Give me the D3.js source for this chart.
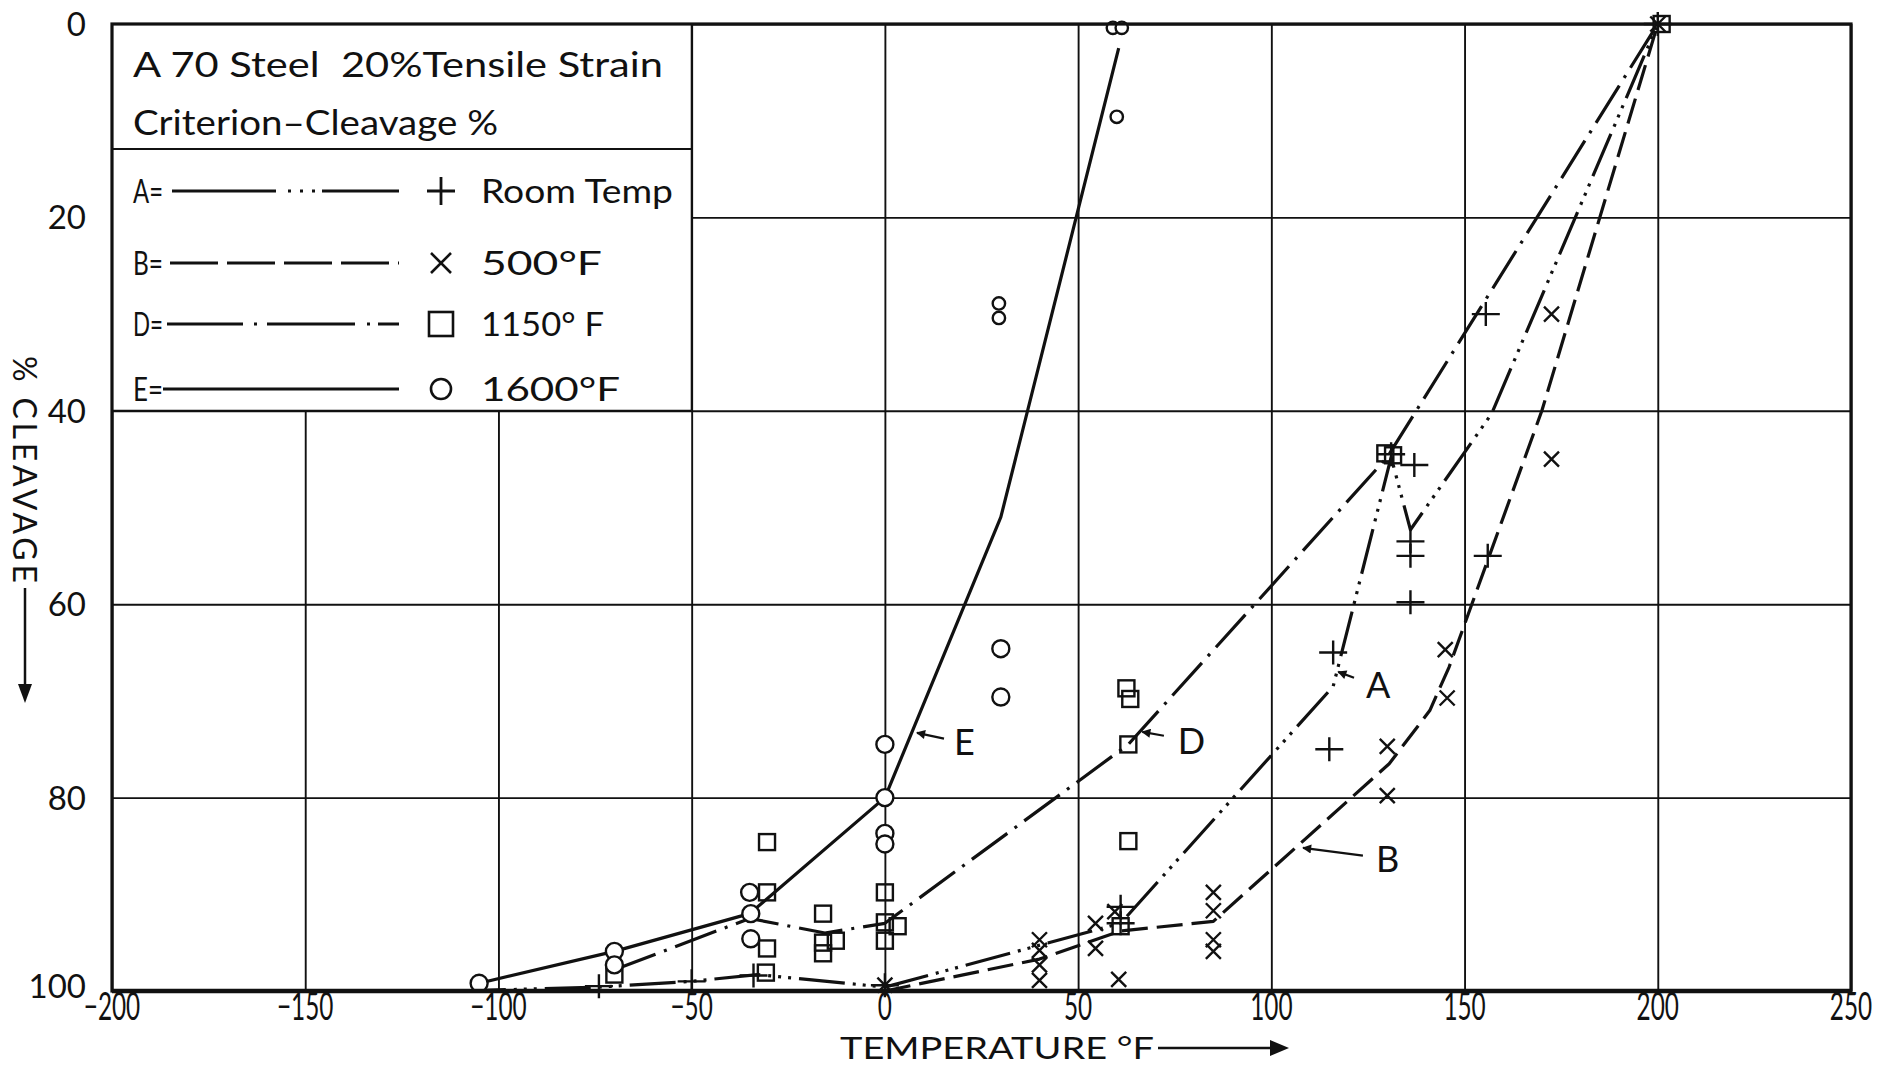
<!DOCTYPE html>
<html>
<head>
<meta charset="utf-8">
<script src="https://cdn.jsdelivr.net/npm/d3@7"></script>
<style>
  html, body { margin: 0; padding: 0; background: #fff; }
  svg { display: block; }
  text { font-family: Lato, "DejaVu Sans", sans-serif; fill: #111; white-space: pre; }
</style>
</head>
<body>
<svg id="chart" width="1895" height="1065"></svg>
<script>
// Axis ticks
const xTicks = [-200, -150, -100, -50, 0, 50, 100, 150, 200, 250];   // temperature, °F
const yTicks = [0, 20, 40, 60, 80, 100];                               // cleavage, %

// Fitted curves: [temperature °F, cleavage %]
const curveA = [[-110, 100], [-74, 99.6], [-50, 99], [-33, 98.3], [0, 99.6], [61, 93], [116, 68.5],
                [131, 44.8], [136, 52.3], [157, 40.3], [200, 0]];
const curveB = [[0, 100], [40, 96.7], [61, 93.8], [85, 92.8], [130.5, 76.5], [141, 71], [146, 66.5],
                [170, 40], [200, 0]];
const curveD = [[-70, 97.8], [-35, 92.5], [-15.5, 94], [0, 93], [63, 74.5], [130, 44.8], [200, 0]];
const curveE = [[-105, 99.2], [-70, 95.9], [-35, 92], [0, 80], [30, 51], [60.5, 2.5]];

// Test results: [temperature °F, cleavage %]
const roomTempPts = [[-74, 99.5], [-50, 99], [-34, 98.4], [0, 99.4], [61, 91.3], [61, 93], [116, 65], [115, 75],
                     [131, 44.5], [137, 45.6], [136, 53.5], [136, 55], [136, 59.8], [156, 55], [155.5, 30], [200, 0]];
const f500Pts = [[0, 99.4], [40, 94.7], [40, 95.8], [40, 97.3], [40, 98.9], [54.5, 93], [54.5, 95.6], [60.5, 98.8],
                 [59.5, 91.8], [85, 89.8], [85, 91.7], [85, 94.7], [85, 95.9], [130, 74.7], [130, 79.8],
                 [145, 64.7], [145.5, 69.7], [172.5, 45], [172.5, 30], [200, 0]];
const f1150Pts = [[-70, 98.3], [-30.5, 84.6], [-30.5, 89.8], [-30.5, 95.6], [-30.8, 98.1], [-16, 92], [-16, 95],
                  [-16, 96.1], [-12.7, 94.8], [0, 89.8], [0, 92.9], [0, 94.8], [3.3, 93.3], [62.5, 68.7],
                  [63.5, 69.8], [63, 74.5], [63, 84.5], [61, 93.3], [129.5, 44.4], [131.5, 44.6], [201, 0]];
const f1600Pts = [[-105, 99.2], [-70, 95.9], [-70, 97.3], [-35, 89.8], [-34.7, 92], [-34.7, 94.6], [0, 74.5],
                  [0, 80], [0, 83.7], [0, 84.8], [30, 64.6], [30, 69.6]];
const f1600SmallPts = [[29.5, 28.9], [29.5, 30.4], [60, 9.6], [59, 0.4], [61.3, 0.4]];

// Curve labels: letter, label position, arrow tip (data units)
const curveLabels = [
  { name: "E", at: [17.9, 74.3], tail: [15.3, 73.9], tip: [8.3, 73.3] },
  { name: "D", at: [75.8, 74.1], tail: [72.2, 73.6], tip: [66.6, 73.2] },
  { name: "A", at: [124.5, 68.4], tail: [121.4, 67.6], tip: [117.3, 67.0] },
  { name: "B", at: [127.1, 86.3], tail: [123.7, 86.0], tip: [108.2, 85.2] }
];

// Legend entries
const legendTitle = ["A 70 Steel  20%Tensile Strain", "Criterion\u2013Cleavage %"];
const legendKeys = ["A=", "B=", "D=", "E="];
const legendNames = ["Room Temp", "500°F", "1150° F", "1600°F"];

const svg = d3.select("#chart");
const P = { left: 112, right: 1851, top: 24, bottom: 991 };
const x = d3.scaleLinear().domain([-200, 250]).range([P.left, P.right]);
const y = d3.scaleLinear().domain([0, 100]).range([P.top, P.bottom]);
const ink = "#111";

svg.append("rect").attr("width", 1895).attr("height", 1065).attr("fill", "#fff");

// grid
const grid = svg.append("g");
grid.append("g").attr("transform", `translate(0,${P.bottom})`)
  .call(d3.axisBottom(x).tickValues(xTicks).tickSize(-(P.bottom - P.top)).tickFormat(""))
  .call(g => { g.select(".domain").remove(); g.selectAll("line").attr("stroke", ink).attr("stroke-width", 1.9); });
grid.append("g").attr("transform", `translate(${P.left},0)`)
  .call(d3.axisLeft(y).tickValues(yTicks).tickSize(-(P.right - P.left)).tickFormat(""))
  .call(g => { g.select(".domain").remove(); g.selectAll("line").attr("stroke", ink).attr("stroke-width", 1.9); });

// legend panel (covers the upper-left grid cells)
const lg = svg.append("g");
lg.append("rect").attr("x", x(-200)).attr("y", y(0)).attr("width", x(-50) - x(-200)).attr("height", y(40) - y(0))
  .attr("fill", "#fff");
lg.append("line").attr("x1", x(-50)).attr("x2", x(-50)).attr("y1", y(0)).attr("y2", y(40))
  .attr("stroke", ink).attr("stroke-width", 1.9);
lg.append("line").attr("x1", x(-200)).attr("x2", x(-50)).attr("y1", y(40)).attr("y2", y(40))
  .attr("stroke", ink).attr("stroke-width", 1.9);
lg.append("line").attr("x1", x(-200)).attr("x2", x(-50)).attr("y1", 149).attr("y2", 149)
  .attr("stroke", ink).attr("stroke-width", 1.9);
lg.append("text").attr("x", 133).attr("y", 77).attr("font-size", 34)
  .attr("textLength", 530).attr("lengthAdjust", "spacingAndGlyphs").text(legendTitle[0]);
lg.append("text").attr("x", 133).attr("y", 135).attr("font-size", 34)
  .attr("textLength", 365).attr("lengthAdjust", "spacingAndGlyphs").text(legendTitle[1]);

const rowY = [191, 263, 324, 389];
const rowLineStart = [172, 170, 167, 163];
const rowDash = ["104,12,3,9,3,9,3,7,90", "48,9", "76,11,3,10,88,12,3,8,40", null];
const rowNameLen = [192, 121, 123, 139];
legendKeys.forEach((k, i) => {
  lg.append("text").attr("x", 133).attr("y", rowY[i] + 12).attr("font-size", 32)
    .attr("textLength", 30).attr("lengthAdjust", "spacingAndGlyphs").text(k);
  const l = lg.append("line").attr("x1", rowLineStart[i]).attr("x2", 399).attr("y1", rowY[i]).attr("y2", rowY[i])
    .attr("stroke", ink).attr("stroke-width", 2.8);
  if (rowDash[i]) l.attr("stroke-dasharray", rowDash[i]);
  lg.append("text").attr("x", 481).attr("y", rowY[i] + 12).attr("font-size", 33)
    .attr("textLength", rowNameLen[i]).attr("lengthAdjust", "spacingAndGlyphs").text(legendNames[i]);
});

// marker shapes
function plusPath(hw, hh) { return `M${-hw},0H${hw}M0,${-hh}V${hh}`; }
function crossPath(s) { return `M${-s},${-s}L${s},${s}M${-s},${s}L${s},${-s}`; }
lg.append("path").attr("transform", `translate(441,${rowY[0]})`).attr("d", plusPath(14, 14))
  .attr("stroke", ink).attr("stroke-width", 2.8).attr("fill", "none");
lg.append("path").attr("transform", `translate(441,${rowY[1]})`).attr("d", crossPath(10))
  .attr("stroke", ink).attr("stroke-width", 2.6).attr("fill", "none");
lg.append("rect").attr("x", 441 - 12).attr("y", rowY[2] - 12).attr("width", 24).attr("height", 24)
  .attr("stroke", ink).attr("stroke-width", 2.6).attr("fill", "none");
lg.append("circle").attr("cx", 441).attr("cy", rowY[3]).attr("r", 10)
  .attr("stroke", ink).attr("stroke-width", 2.6).attr("fill", "none");

// curves
const line = d3.line().x(d => x(d[0])).y(d => y(d[1]));
const curves = svg.append("g").attr("fill", "none").attr("stroke", ink).attr("stroke-width", 3.2)
  .attr("stroke-linejoin", "round");
curves.append("path").attr("d", line(curveE));
curves.append("path").attr("d", line(curveD)).attr("stroke-dasharray", "44,9,3,9");
curves.append("path").attr("d", line(curveA)).attr("stroke-dasharray", "46,8,3,7,3,7,3,8");
curves.append("path").attr("d", line(curveB)).attr("stroke-dasharray", "26,9");

// points
const pts = svg.append("g").attr("stroke", ink).attr("stroke-width", 2.4);
pts.selectAll(".sq").data(f1150Pts).join("rect").attr("class", "sq")
  .attr("x", d => x(d[0]) - 8).attr("y", d => y(d[1]) - 8).attr("width", 16).attr("height", 16)
  .attr("fill", "none");
pts.selectAll(".ci").data(f1600Pts).join("circle").attr("class", "ci")
  .attr("cx", d => x(d[0])).attr("cy", d => y(d[1])).attr("r", 8.5).attr("fill", "#fff");
pts.selectAll(".cs").data(f1600SmallPts).join("circle").attr("class", "cs")
  .attr("cx", d => x(d[0])).attr("cy", d => y(d[1])).attr("r", 6.2).attr("fill", "#fff");
pts.selectAll(".pl").data(roomTempPts).join("path").attr("class", "pl")
  .attr("transform", d => `translate(${x(d[0])},${y(d[1])})`).attr("d", plusPath(14, 12)).attr("fill", "none");
pts.selectAll(".cr").data(f500Pts).join("path").attr("class", "cr")
  .attr("transform", d => `translate(${x(d[0])},${y(d[1])})`).attr("d", crossPath(7.5)).attr("fill", "none");

// curve labels with arrows
svg.append("defs").append("marker").attr("id", "head").attr("viewBox", "0 0 10 10")
  .attr("refX", 9).attr("refY", 5).attr("markerWidth", 12).attr("markerHeight", 9)
  .attr("markerUnits", "userSpaceOnUse").attr("orient", "auto")
  .append("path").attr("d", "M0,0L10,5L0,10Z").attr("fill", ink);
const labs = svg.append("g");
curveLabels.forEach(c => {
  labs.append("line").attr("x1", x(c.tail[0])).attr("y1", y(c.tail[1])).attr("x2", x(c.tip[0])).attr("y2", y(c.tip[1]))
    .attr("stroke", ink).attr("stroke-width", 2.2).attr("marker-end", "url(#head)");
  labs.append("text").attr("x", x(c.at[0])).attr("y", y(c.at[1]) + 13).attr("font-size", 36)
    .attr("text-anchor", "start").text(c.name);
});

// plot frame
svg.append("rect").attr("x", P.left).attr("y", P.top).attr("width", P.right - P.left).attr("height", P.bottom - P.top)
  .attr("fill", "none").attr("stroke", ink).attr("stroke-width", 3.2);
svg.append("line").attr("x1", P.left).attr("x2", P.right).attr("y1", P.bottom).attr("y2", P.bottom)
  .attr("stroke", ink).attr("stroke-width", 4.5);

// tick labels
const fmt = d => (d < 0 ? "\u2212" + Math.abs(d) : String(d));
svg.append("g").selectAll("text").data(xTicks).join("text")
  .attr("transform", d => `translate(${x(d)},1020) scale(0.64,1)`)
  .attr("text-anchor", "middle").attr("font-size", 38).text(fmt);
svg.append("g").selectAll("text").data(yTicks).join("text")
  .attr("x", 86).attr("y", d => Math.min(y(d) + 12, P.bottom + 7)).attr("text-anchor", "end").attr("font-size", 33)
  .text(d => d);

// axis titles
svg.append("text").attr("x", 840).attr("y", 1058.5).attr("font-size", 30)
  .attr("textLength", 314).attr("lengthAdjust", "spacingAndGlyphs").text("TEMPERATURE °F");
svg.append("line").attr("x1", 1158).attr("x2", 1272).attr("y1", 1048).attr("y2", 1048)
  .attr("stroke", ink).attr("stroke-width", 2.5);
svg.append("path").attr("d", "M1270,1040L1289,1048L1270,1056Z").attr("fill", ink);

svg.append("text").attr("transform", "translate(13,356) rotate(90)").attr("font-size", 32)
  .attr("textLength", 227).attr("lengthAdjust", "spacing").text("% CLEAVAGE");
svg.append("line").attr("x1", 25).attr("x2", 25).attr("y1", 588).attr("y2", 688)
  .attr("stroke", ink).attr("stroke-width", 2.5);
svg.append("path").attr("d", "M18,684L25,703L32,684Z").attr("fill", ink);
</script>
</body>
</html>
